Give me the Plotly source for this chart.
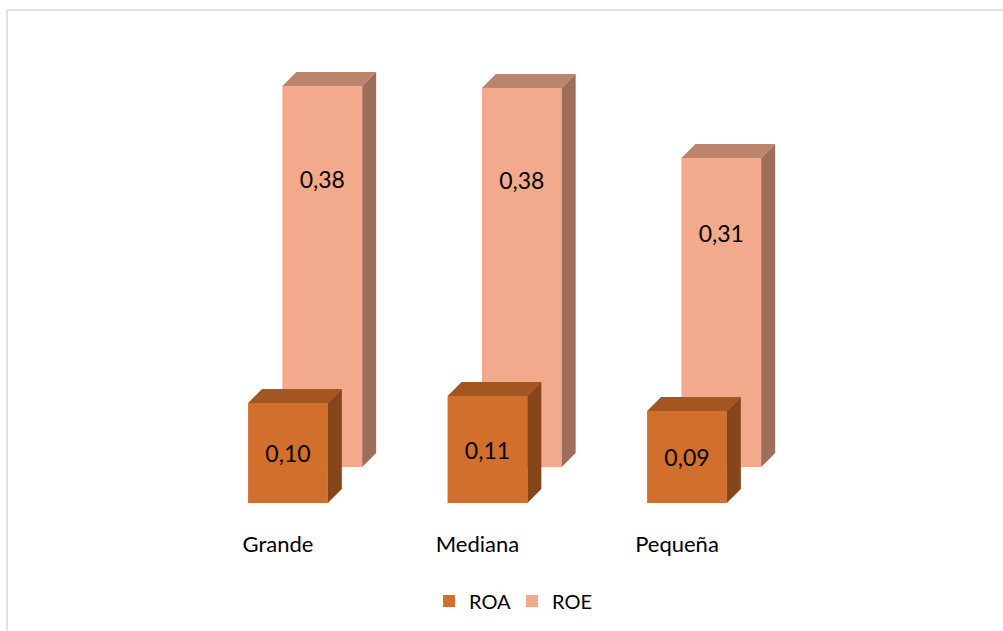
import plotly.graph_objects as go

# ---- data ----
categories = ["Grande", "Mediana", "Pequeña"]
roa_values = [0.100, 0.107, 0.092]
roe_values = [0.381, 0.379, 0.309]
series_names = ["ROA", "ROE"]

# ---- style / geometry ----
ROA_FRONT, ROA_TOP, ROA_SIDE = "#D36F2D", "#A3561F", "#874619"
ROE_FRONT, ROE_TOP, ROE_SIDE = "#F3A98B", "#BA846D", "#9F6E5B"
BAR_W = 0.40
ROA_SHIFT = 0.05
ROE_SHIFT = 0.222
ROE_BASE = 0.036      # back row sits higher (3D depth)
DX, DY = 0.070, 0.014  # 3D extrusion
FONT = "Lato"

idx = list(range(len(categories)))
roa_x = [i + ROA_SHIFT for i in idx]
roe_x = [i + ROE_SHIFT for i in idx]


def fmt(v):
    return f"{v:.2f}".replace(".", ",")


def faces(xs, vals, base):
    tx, ty, sx, sy = [], [], [], []
    for xc, v in zip(xs, vals):
        x0, x1 = xc - BAR_W / 2, xc + BAR_W / 2
        top = base + v
        tx += [x0, x1, x1 + DX, x0 + DX, x0, None]
        ty += [top, top, top + DY, top + DY, top, None]
        sx += [x1, x1 + DX, x1 + DX, x1, x1, None]
        sy += [base, base + DY, top + DY, top, base, None]
    return tx, ty, sx, sy


fig = go.Figure()

# back row: ROE
fig.add_trace(go.Bar(
    x=roe_x, y=roe_values, base=[ROE_BASE] * 3, width=BAR_W,
    name=series_names[1], marker=dict(color=ROE_FRONT, line=dict(width=0)),
    textposition="none", legendrank=2,
))
# front row: ROA
fig.add_trace(go.Bar(
    x=roa_x, y=roa_values, base=[0] * 3, width=BAR_W,
    name=series_names[0], marker=dict(color=ROA_FRONT, line=dict(width=0)),
    text=[fmt(v) for v in roa_values], textposition="inside",
    insidetextanchor="middle", textangle=0,
    textfont=dict(family=FONT, size=23, color="#000000"), legendrank=1,
))

# 3D faces for ROE
tx, ty, sx, sy = faces(roe_x, roe_values, ROE_BASE)
fig.add_trace(go.Scatter(x=tx, y=ty, fill="toself", fillcolor=ROE_TOP, mode="none",
                         showlegend=False, hoverinfo="skip"))
fig.add_trace(go.Scatter(x=sx, y=sy, fill="toself", fillcolor=ROE_SIDE, mode="none",
                         showlegend=False, hoverinfo="skip"))
# ROE labels
fig.add_trace(go.Scatter(
    x=roe_x, y=[ROE_BASE + v * 0.748 for v in roe_values], mode="text",
    text=[fmt(v) for v in roe_values],
    textfont=dict(family=FONT, size=23, color="#000000"),
    showlegend=False, hoverinfo="skip",
))
# 3D faces for ROA (above everything of the back row)
tx, ty, sx, sy = faces(roa_x, roa_values, 0)
fig.add_trace(go.Scatter(x=tx, y=ty, fill="toself", fillcolor=ROA_TOP, mode="none",
                         showlegend=False, hoverinfo="skip"))
fig.add_trace(go.Scatter(x=sx, y=sy, fill="toself", fillcolor=ROA_SIDE, mode="none",
                         showlegend=False, hoverinfo="skip"))

W, H = 1003, 631
MB = 105
plot_h = H - MB

fig.update_layout(
    width=W, height=H,
    margin=dict(l=0, r=0, t=0, b=MB),
    paper_bgcolor="white", plot_bgcolor="white",
    barmode="overlay",
    showlegend=True,
    legend=dict(orientation="h", x=0.5105, xanchor="center",
                y=(plot_h - 601) / plot_h, yanchor="middle",
                font=dict(family=FONT, size=20, color="#000000"),
                traceorder="normal", itemwidth=30,
                entrywidth=38, entrywidthmode="pixels"),
    xaxis=dict(range=[-278 / 199.5, (W - 278) / 199.5],
               tickvals=idx, ticktext=categories, showgrid=False,
               zeroline=False, showline=False, ticks="",
               ticklabelstandoff=3,
               tickfont=dict(family=FONT, size=22, color="#000000"),
               fixedrange=True),
    yaxis=dict(range=[-(plot_h - 503) / 1000, 503 / 1000], visible=False,
               fixedrange=True),
    shapes=[dict(type="rect", xref="paper", yref="paper",
                 x0=7 / W, x1=1.05, y0=-0.4, y1=(plot_h - 10) / plot_h,
                 line=dict(color="#D9D9D9", width=1.5), fillcolor="rgba(0,0,0,0)")],
)

fig.write_html("out.html")
